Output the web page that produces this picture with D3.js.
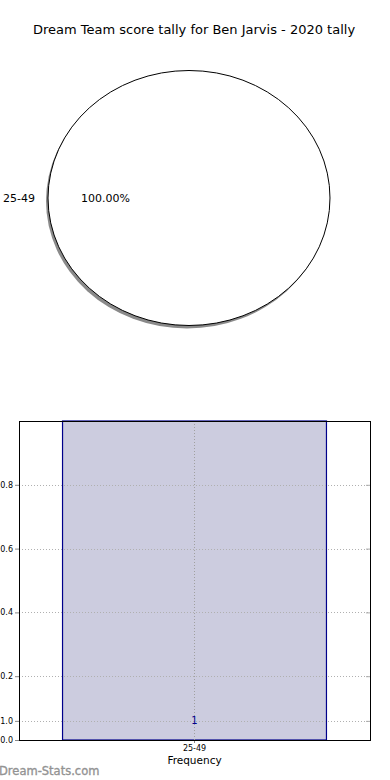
<!DOCTYPE html>
<html>
<head>
<meta charset="utf-8">
<script src="https://cdn.jsdelivr.net/npm/d3@7"></script>
<style>
  html, body { margin: 0; padding: 0; background: #fff; }
  svg { display: block; font-family: "DejaVu Sans", sans-serif; }
</style>
</head>
<body>
<svg id="chart" width="390" height="780"></svg>
<script>
// Score bands and how many rounds fell into each
const categories = ["25-49"];
const counts = [1];

// Y axis ticks as printed on the frequency chart
const yTickValues = [0, 0.06, 0.2, 0.4, 0.6, 0.8];
const yTickLabels = ["0.0", "1.0", "0.2", "0.4", "0.6", "0.8"];

const title = "Dream Team score tally for Ben Jarvis - 2020 tally";
const xLabel = "Frequency";
const watermark = "Dream-Stats.com";

const svg = d3.select("#chart");

// ---- Title ----
svg.append("text")
  .attr("x", 194).attr("y", 34)
  .attr("text-anchor", "middle")
  .attr("font-size", 13)
  .attr("fill", "#000")
  .text(title);

// ---- Pie chart (stretched into an ellipse) ----
const total = d3.sum(counts);
const pieData = d3.pie().sort(null).value(d => d)(counts);
const cx = 189, cy = 198, rx = 141, ry = 127.5;
const arc = d3.arc().innerRadius(0).outerRadius(1);

const pieG = svg.append("g");

// shadow
pieG.append("g")
  .attr("transform", `translate(${cx - 2},${cy + 3}) scale(${rx},${ry})`)
  .selectAll("path").data(pieData).join("path")
  .attr("d", arc)
  .attr("fill", "#8a8a8a")
  .attr("stroke", "none");

pieG.append("g")
  .attr("transform", `translate(${cx},${cy}) scale(${rx},${ry})`)
  .selectAll("path").data(pieData).join("path")
  .attr("d", arc)
  .attr("fill", "#ffffff")
  .attr("stroke", "#000")
  .attr("stroke-width", 1)
  .attr("vector-effect", "non-scaling-stroke");

// labels: category outside, percentage inside
pieData.forEach((d, i) => {
  const mid = (d.startAngle + d.endAngle) / 2;
  // a single full slice has its labels placed on the left side
  const ang = pieData.length === 1 ? -Math.PI / 2 : mid;
  const lx = cx + Math.sin(ang) * rx * 1.1;
  const ly = cy - Math.cos(ang) * ry * 1.1;
  const px = cx + Math.sin(ang) * rx * 0.6;
  const py = cy - Math.cos(ang) * ry * 0.6;
  svg.append("text")
    .attr("x", lx + 1).attr("y", ly)
    .attr("text-anchor", "end")
    .attr("dominant-baseline", "central")
    .attr("font-size", 11)
    .text(categories[i]);
  svg.append("text")
    .attr("x", px + 1).attr("y", py)
    .attr("text-anchor", "middle")
    .attr("dominant-baseline", "central")
    .attr("font-size", 11)
    .text((d.data / total * 100).toFixed(2) + "%");
});

// ---- Bar chart ----
const plotLeft = 19, plotRight = 370, plotTop = 421, plotBottom = 740;

const x = d3.scaleBand()
  .domain(categories)
  .range([plotLeft, plotRight])
  .paddingInner(0.1416)
  .paddingOuter(0.1416);

const y = d3.scaleLinear().domain([0, 1]).range([plotBottom, plotTop]);

const barG = svg.append("g");

// bars
barG.selectAll("rect.bar").data(counts).join("rect")
  .attr("class", "bar")
  .attr("x", (d, i) => x(categories[i]))
  .attr("y", d => y(d))
  .attr("width", x.bandwidth())
  .attr("height", d => y(0) - y(d))
  .attr("fill", "#ccccdf")
  .attr("stroke", "#00008b")
  .attr("stroke-width", 1.2);

// grid lines
barG.selectAll("line.hgrid").data(yTickValues).join("line")
  .attr("class", "hgrid")
  .attr("x1", plotLeft).attr("x2", plotRight)
  .attr("y1", d => Math.round(y(d)) + 0.5).attr("y2", d => Math.round(y(d)) + 0.5)
  .attr("stroke", "#b0b0b0")
  .attr("stroke-dasharray", "1,2");

barG.selectAll("line.vgrid").data(categories).join("line")
  .attr("class", "vgrid")
  .attr("x1", d => x(d) + x.bandwidth() / 2).attr("x2", d => x(d) + x.bandwidth() / 2)
  .attr("y1", plotTop).attr("y2", plotBottom)
  .attr("stroke", "#a0a0a0")
  .attr("stroke-dasharray", "1,2");

// value labels
barG.selectAll("text.val").data(counts).join("text")
  .attr("class", "val")
  .attr("x", (d, i) => x(categories[i]) + x.bandwidth() / 2)
  .attr("y", y(0.06))
  .attr("text-anchor", "middle")
  .attr("dominant-baseline", "central")
  .attr("font-size", 10)
  .attr("fill", "#00008b")
  .text(d => d);

// left axis
const yAxis = d3.axisLeft(y)
  .tickValues(yTickValues)
  .tickFormat((d, i) => yTickLabels[i])
  .tickSize(4).tickPadding(2);
const yAxisG = svg.append("g")
  .attr("transform", `translate(${plotLeft},0)`)
  .call(yAxis);
yAxisG.select(".domain").remove();
yAxisG.selectAll("text").attr("font-size", 8).attr("font-family", "DejaVu Sans, sans-serif").attr("fill", "#000");
yAxisG.selectAll("line").attr("stroke", "#888");

// right axis tick marks (inward)
const yRight = d3.axisLeft(y).tickValues(yTickValues).tickFormat("").tickSize(4);
const yRightG = svg.append("g")
  .attr("transform", `translate(${plotRight},0)`)
  .call(yRight);
yRightG.select(".domain").remove();
yRightG.selectAll("line").attr("stroke", "#aaa");

// bottom axis
const xAxis = d3.axisBottom(x).tickSize(3).tickPadding(2);
const xAxisG = svg.append("g")
  .attr("transform", `translate(0,${plotBottom})`)
  .call(xAxis);
xAxisG.select(".domain").remove();
xAxisG.selectAll("text").attr("font-size", 8).attr("font-family", "DejaVu Sans, sans-serif").attr("fill", "#000");
xAxisG.selectAll("line").attr("stroke", "#888");

// frame
svg.append("rect")
  .attr("x", plotLeft + 0.5).attr("y", plotTop + 0.5)
  .attr("width", plotRight - plotLeft).attr("height", plotBottom - plotTop)
  .attr("fill", "none")
  .attr("stroke", "#000")
  .attr("stroke-width", 1);

// x label
svg.append("text")
  .attr("x", (plotLeft + plotRight) / 2).attr("y", 764)
  .attr("text-anchor", "middle")
  .attr("font-size", 10.5)
  .text(xLabel);

// watermark
svg.append("text")
  .attr("x", -1).attr("y", 775)
  .attr("font-size", 11.5)
  .attr("fill", "#939393")
  .attr("stroke", "#939393")
  .attr("stroke-width", 0.35)
  .text(watermark);
</script>
</body>
</html>
